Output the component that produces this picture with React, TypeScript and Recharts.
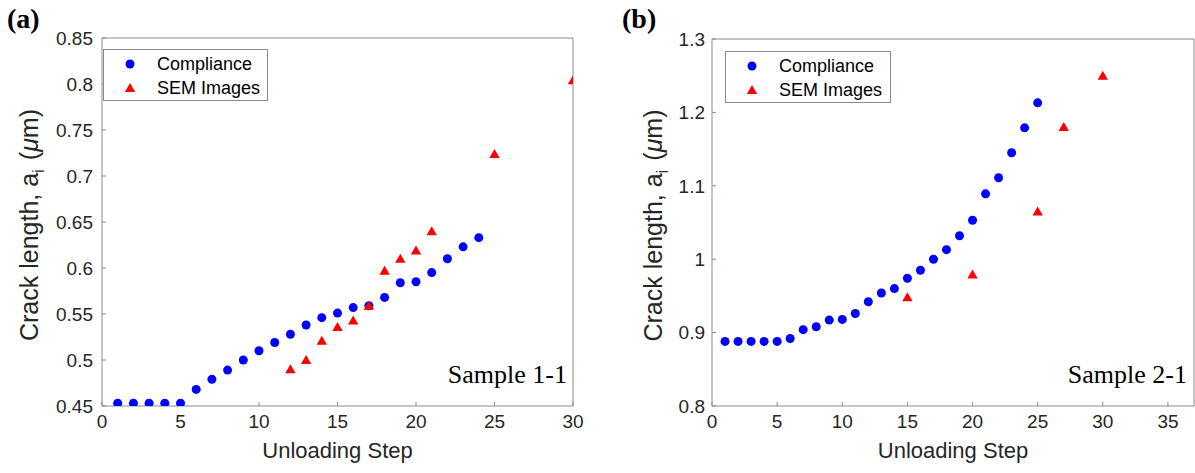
import React from "react";
import { ScatterChart, Scatter, XAxis, YAxis, Legend } from "recharts";

// Sample 1-1
const steps1 = [1, 2, 3, 4, 5, 6, 7, 8, 9, 10, 11, 12, 13, 14, 15, 16, 17, 18, 19, 20, 21, 22, 23, 24];
const compliance1 = [
  0.453, 0.453, 0.453, 0.453, 0.453, 0.468, 0.479, 0.489, 0.5, 0.51, 0.519, 0.528,
  0.538, 0.546, 0.551, 0.557, 0.559, 0.568, 0.584, 0.585, 0.595, 0.61, 0.623, 0.633,
];
const semSteps1 = [12, 13, 14, 15, 16, 17, 18, 19, 20, 21, 25, 30];
const sem1 = [0.49, 0.5, 0.521, 0.536, 0.543, 0.559, 0.597, 0.61, 0.619, 0.64, 0.724, 0.804];
const xTicks1 = [0, 5, 10, 15, 20, 25, 30];
const yTicks1 = [0.45, 0.5, 0.55, 0.6, 0.65, 0.7, 0.75, 0.8, 0.85];

// Sample 2-1
const steps2 = [1, 2, 3, 4, 5, 6, 7, 8, 9, 10, 11, 12, 13, 14, 15, 16, 17, 18, 19, 20, 21, 22, 23, 24, 25];
const compliance2 = [
  0.888, 0.888, 0.888, 0.888, 0.888, 0.892, 0.904, 0.908, 0.917, 0.918, 0.926, 0.942,
  0.954, 0.96, 0.974, 0.985, 1.0, 1.013, 1.032, 1.053, 1.089, 1.111, 1.145, 1.179, 1.213,
];
const semSteps2 = [15, 20, 25, 27, 30];
const sem2 = [0.948, 0.979, 1.065, 1.18, 1.25];
const xTicks2 = [0, 5, 10, 15, 20, 25, 30, 35];
const yTicks2 = [0.8, 0.9, 1, 1.1, 1.2, 1.3];

const SANS = "Arial, 'Liberation Sans', Helvetica, sans-serif";
const SERIF = "'Times New Roman', 'Liberation Serif', serif";
const AXIS = "#8a8a8a";
const INK = "#262626";

const toPoints = (xs: number[], ys: number[]) => xs.map((x, i) => ({ x, y: ys[i] }));

const Dot = (p: any) => <circle cx={p.cx} cy={p.cy} r={4.5} fill="#0000ff" />;
const Tri = (p: any) => (
  <path d={`M${p.cx},${p.cy - 5} L${p.cx + 5.2},${p.cy + 4} L${p.cx - 5.2},${p.cy + 4} Z`} fill="#ff0000" />
);

const LegendBox = ({ width }: { width: number }) => (
  <div
    style={{
      boxSizing: "border-box",
      width,
      height: 52,
      paddingTop: 2,
      border: `1px solid ${AXIS}`,
      background: "#fff",
      fontFamily: SANS,
      fontSize: 18,
      lineHeight: 1,
      color: "#000",
    }}
  >
    <div style={{ display: "flex", alignItems: "center", height: 24 }}>
      <svg width={12} height={12} style={{ marginLeft: 20 }}>
        <circle cx={6} cy={6} r={4.5} fill="#0000ff" />
      </svg>
      <span style={{ marginLeft: 21 }}>Compliance</span>
    </div>
    <div style={{ display: "flex", alignItems: "center", height: 24 }}>
      <svg width={12} height={12} style={{ marginLeft: 20 }}>
        <path d="M6,1 L11.2,10 L0.8,10 Z" fill="#ff0000" />
      </svg>
      <span style={{ marginLeft: 21 }}>SEM Images</span>
    </div>
  </div>
);

const yLabel = (baseX: number) => (props: any) => {
  const vb = props.viewBox;
  const cy = vb.y + vb.height / 2 + 3;
  return (
    <text
      transform={`translate(${vb.x + baseX},${cy}) rotate(-90)`}
      textAnchor="middle"
      fontFamily={SANS}
      fontSize={25}
      fill={INK}
    >
      Crack length, a
      <tspan dy={6} fontSize={17}>i</tspan>
      <tspan dy={-6} dx={2}> (</tspan>
      <tspan fontStyle="italic">μ</tspan>
      <tspan>m)</tspan>
    </text>
  );
};

const xLabel = (props: any) => {
  const vb = props.viewBox;
  return (
    <text x={vb.x + vb.width / 2} y={vb.y + 52} textAnchor="middle" fontFamily={SANS} fontSize={22} fill={INK}>
      Unloading Step
    </text>
  );
};

interface PanelProps {
  width: number;
  yAxisWidth: number;
  marginRight: number;
  marginTop: number;
  xDomain: [number, number];
  xTicks: number[];
  yDomain: [number, number];
  yTicks: number[];
  compliance: { x: number; y: number }[];
  sem: { x: number; y: number }[];
  yTickMargin: number;
  labelX: number;
  legendLeft: number;
  legendTop: number;
  legendWidth: number;
}

function Panel(p: PanelProps) {
  const tickStyle = { fill: INK, fontSize: 19, fontFamily: SANS };
  return (
    <ScatterChart
      width={p.width}
      height={473}
      margin={{ top: p.marginTop, right: p.marginRight, bottom: 37, left: 0 }}
    >
      <XAxis
        xAxisId="b"
        type="number"
        dataKey="x"
        domain={p.xDomain}
        ticks={p.xTicks}
        interval={0}
        allowDataOverflow
        height={30}
        stroke={AXIS}
        tickSize={-4}
        tickMargin={13}
        tick={tickStyle}
        label={{ content: xLabel }}
      />
      <XAxis
        xAxisId="t"
        orientation="top"
        type="number"
        dataKey="x"
        domain={p.xDomain}
        ticks={p.xTicks}
        interval={0}
        allowDataOverflow
        height={1}
        stroke={AXIS}
        tickSize={-4}
        tick={false}
      />
      <YAxis
        yAxisId="l"
        type="number"
        dataKey="y"
        domain={p.yDomain}
        ticks={p.yTicks}
        interval={0}
        allowDataOverflow
        width={p.yAxisWidth}
        stroke={AXIS}
        tickSize={-4}
        tickMargin={p.yTickMargin}
        tick={tickStyle}
        label={{ content: yLabel(p.labelX) }}
      />
      <YAxis
        yAxisId="r"
        orientation="right"
        type="number"
        dataKey="y"
        domain={p.yDomain}
        ticks={p.yTicks}
        interval={0}
        allowDataOverflow
        width={1}
        stroke={AXIS}
        tickSize={-4}
        tick={false}
      />
      <Legend
        layout="vertical"
        align="center"
        verticalAlign="middle"
        content={() => <LegendBox width={p.legendWidth} />}
        wrapperStyle={{ left: p.legendLeft, top: p.legendTop, width: "auto" }}
      />
      <Scatter
        name="Compliance"
        data={p.compliance}
        xAxisId="b"
        yAxisId="l"
        shape={Dot}
        isAnimationActive={false}
      />
      <Scatter
        name="SEM Images"
        data={p.sem}
        xAxisId="t"
        yAxisId="r"
        shape={Tri}
        isAnimationActive={false}
      />
    </ScatterChart>
  );
}

export default function App() {
  return (
    <div style={{ position: "absolute", left: 0, top: 0, width: 1195, height: 473, background: "#fff" }}>
      <div style={{ position: "absolute", left: 0, top: 0 }}>
        <Panel
          width={600}
          yAxisWidth={102}
          marginRight={26}
          marginTop={37}
          xDomain={[0, 30]}
          xTicks={xTicks1}
          yDomain={[0.45, 0.85]}
          yTicks={yTicks1}
          compliance={toPoints(steps1, compliance1)}
          sem={toPoints(semSteps1, sem1)}
          yTickMargin={13}
          labelX={38}
          legendLeft={103}
          legendTop={49}
          legendWidth={165}
        />
      </div>
      <div style={{ position: "absolute", left: 600, top: 0 }}>
        <Panel
          width={595}
          yAxisWidth={112}
          marginRight={0}
          marginTop={38}
          xDomain={[0, 37]}
          xTicks={xTicks2}
          yDomain={[0.8, 1.3]}
          yTicks={yTicks2}
          compliance={toPoints(steps2, compliance2)}
          sem={toPoints(semSteps2, sem2)}
          yTickMargin={11}
          labelX={62}
          legendLeft={125}
          legendTop={51}
          legendWidth={166}
        />
      </div>
      <svg width={1195} height={473} style={{ position: "absolute", left: 0, top: 0, pointerEvents: "none" }}>
        <text x={7} y={28} fontFamily={SERIF} fontWeight="bold" fontSize={28} fill="#000">(a)</text>
        <text x={622} y={28} fontFamily={SERIF} fontWeight="bold" fontSize={28} fill="#000">(b)</text>
        <text x={567} y={383} textAnchor="end" fontFamily={SERIF} fontSize={26} fill="#000">Sample 1-1</text>
        <text x={1187} y={383} textAnchor="end" fontFamily={SERIF} fontSize={26} fill="#000">Sample 2-1</text>
      </svg>
    </div>
  );
}
